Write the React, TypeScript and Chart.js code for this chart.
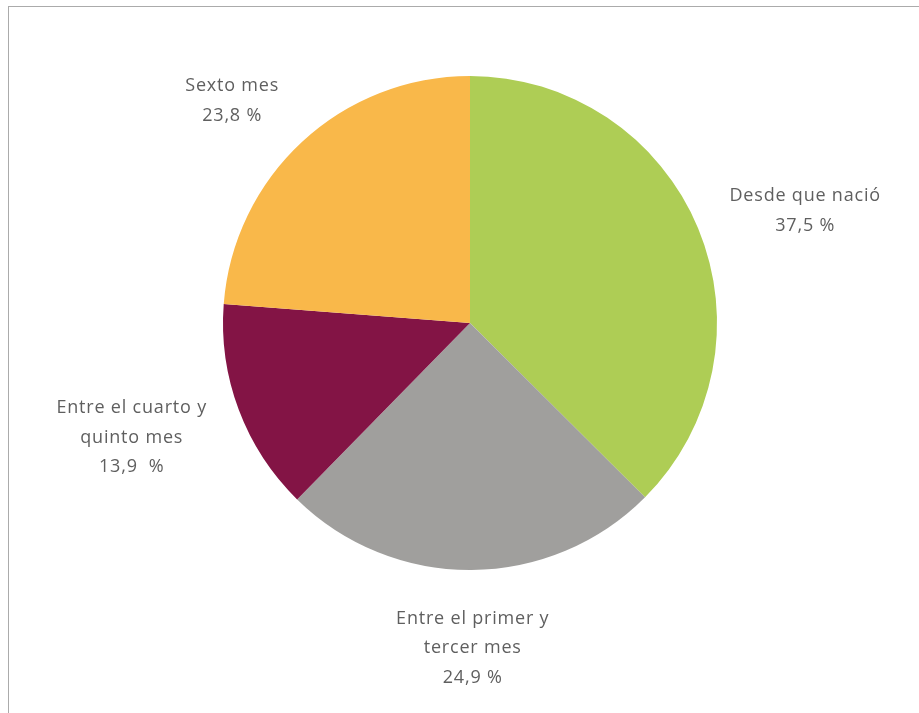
import React, { useEffect, useRef } from "react";
import { Chart, registerables } from "chart.js";

Chart.register(...registerables);

const categories: string[][] = [
  ["Desde que nació"],
  ["Entre el primer y", "tercer mes"],
  ["Entre el cuarto y", "quinto mes"],
  ["Sexto mes"],
];
const values: number[] = [37.5, 24.9, 13.9, 23.8];
const valueLabels: string[] = ["37,5 %", "24,9 %", "13,9  %", "23,8 %"];
const colors: string[] = ["#AECD55", "#A09F9D", "#831445", "#F9B84A"];

const FONT = "18px 'Open Sans', sans-serif";
const LINE_H = 29.5;

const clamp = (v: number, a: number, b: number) => Math.max(a, Math.min(b, v));

const labelPlugin = {
  id: "outsideLabels",
  afterDraw(chart: any) {
    const ctx = chart.ctx;
    const meta = chart.getDatasetMeta(0);
    ctx.save();
    ctx.font = FONT;
    try {
      (ctx as any).letterSpacing = "0.8px";
    } catch (e) {}
    ctx.fillStyle = "#5f5f5f";
    ctx.textAlign = "center";
    ctx.textBaseline = "middle";
    meta.data.forEach((arc: any, i: number) => {
      const { x, y, startAngle, endAngle, outerRadius } = arc.getProps(
        ["x", "y", "startAngle", "endAngle", "outerRadius"],
        true
      );
      const mid = (startAngle + endAngle) / 2;
      const lines = [...categories[i], valueLabels[i]];
      const w = Math.max(...lines.map((l) => ctx.measureText(l).width));
      const h = lines.length * LINE_H;
      const pad = 34;
      const c = Math.cos(mid);
      const s = Math.sin(mid);
      const ax = x + (outerRadius + pad) * c;
      const ay = y + (outerRadius + pad) * s;
      const fx = clamp(c * 2, -1, 1);
      const fy = s > 0 ? s : -s * s;
      const cx = ax + (fx * w) / 2;
      const cy = ay + (fy * h) / 2;
      lines.forEach((l, j) => {
        ctx.fillText(l, cx, cy - h / 2 + LINE_H * (j + 0.5));
      });
    });
    ctx.restore();
  },
};

export default function App() {
  const ref = useRef<HTMLCanvasElement>(null);
  useEffect(() => {
    if (!ref.current) return;
    const chart = new Chart(ref.current, {
      type: "pie",
      data: {
        labels: categories.map((c) => c.join(" ")),
        datasets: [
          {
            data: values,
            backgroundColor: colors,
            borderWidth: 0,
          },
        ],
      },
      options: {
        animation: false,
        responsive: false,
        maintainAspectRatio: false,
        layout: { padding: { left: 223, right: 202, top: 76, bottom: 143 } },
        plugins: {
          legend: { display: false },
          tooltip: { enabled: false },
        },
      },
      plugins: [labelPlugin],
    });
    return () => chart.destroy();
  }, []);
  return (
    <div style={{ position: "absolute", left: 0, top: 0, width: 919, height: 713, overflow: "hidden" }}>
      <div
        style={{
          position: "absolute",
          left: 8,
          top: 6,
          width: 930,
          height: 730,
          borderTop: "1px solid #ababab",
          borderLeft: "1px solid #ababab",
          background: "#fff",
        }}
      />
      <canvas
        ref={ref}
        width={919}
        height={713}
        style={{ position: "absolute", left: 0, top: 0, width: 919, height: 713 }}
      />
    </div>
  );
}
